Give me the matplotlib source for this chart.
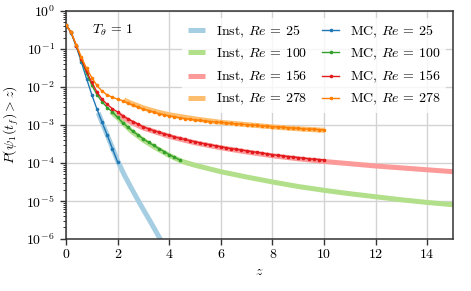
import numpy as np
import matplotlib
matplotlib.use('Agg')
import matplotlib.pyplot as plt
from matplotlib.ticker import LogLocator, FuncFormatter, NullFormatter

plt.rcParams['font.family'] = 'serif'
plt.rcParams['font.serif'] = ['cmr10', 'DejaVu Serif']
plt.rcParams['mathtext.fontset'] = 'cm'
plt.rcParams['axes.unicode_minus'] = False
plt.rcParams['font.size'] = 10

# Monte Carlo data, z step 0.2, values as log10 P
z_mc_step = 0.2
mc_25 = [-0.36, -0.57, -0.93, -1.35, -1.78, -2.20, -2.58, -2.93, -3.27, -3.62, -3.97]
mc_100 = [-0.36, -0.56, -0.92, -1.28, -1.64, -1.95, -2.20, -2.39, -2.54, -2.66,
          -2.80, -2.94, -3.06, -3.17, -3.27, -3.37, -3.46, -3.54, -3.62, -3.70,
          -3.78, -3.85, -3.92]
mc_156 = [-0.36, -0.56, -0.91, -1.26, -1.59, -1.88, -2.13, -2.32, -2.46, -2.57,
          -2.66, -2.76, -2.84, -2.91, -2.98, -3.05, -3.10, -3.15, -3.19, -3.23,
          -3.27, -3.31, -3.35, -3.38, -3.41, -3.44, -3.47, -3.50, -3.52, -3.55,
          -3.57, -3.60, -3.62, -3.64, -3.66, -3.68, -3.70, -3.72, -3.74, -3.76,
          -3.78, -3.80, -3.81, -3.83, -3.84, -3.86, -3.87, -3.89, -3.90, -3.91,
          -3.92]
mc_278 = [-0.36, -0.56, -0.89, -1.22, -1.51, -1.75, -1.96, -2.11, -2.21, -2.27,
          -2.32, -2.36, -2.42, -2.48, -2.53, -2.58, -2.62, -2.66, -2.70, -2.73,
          -2.76, -2.78, -2.81, -2.83, -2.85, -2.86, -2.88, -2.89, -2.91, -2.92,
          -2.93, -2.94, -2.96, -2.97, -2.98, -2.99, -3.00, -3.01, -3.02, -3.03,
          -3.04, -3.05, -3.06, -3.07, -3.08, -3.09, -3.10, -3.11, -3.11, -3.12,
          -3.13]

# instanton predictions (z, log10 P)
inst_25_z = [1.25, 1.5, 1.75, 2.0, 2.25, 2.5, 2.75, 3.0, 3.25, 3.5, 3.75]
inst_25 = [-2.68, -3.10, -3.52, -3.94, -4.30, -4.62, -4.93, -5.23, -5.52, -5.82, -6.12]
inst_100_z = [1.75, 2, 2.5, 3, 3.5, 4, 4.5, 5, 6, 7, 8, 9, 10, 11, 12, 13, 14, 15]
inst_100 = [-2.65, -2.80, -3.14, -3.40, -3.61, -3.80, -3.96, -4.06, -4.23, -4.37,
            -4.50, -4.62, -4.72, -4.81, -4.89, -4.97, -5.04, -5.10]
inst_156_z = [2.0, 2.5, 3, 4, 5, 6, 7, 8, 9, 10, 11, 12, 13, 14, 15]
inst_156 = [-2.70, -2.92, -3.08, -3.30, -3.47, -3.60, -3.71, -3.81, -3.89,
            -3.96, -4.02, -4.08, -4.13, -4.18, -4.23]
inst_278_z = [2.25, 2.5, 3, 3.5, 4, 5, 6, 7, 8, 9, 10]
inst_278 = [-2.34, -2.42, -2.55, -2.65, -2.73, -2.84, -2.93, -2.99, -3.05, -3.10, -3.14]

re_labels = ['25', '100', '156', '278']
inst_colors = ['#a6cee3', '#b2df8a', '#fb9a99', '#fdbf6f']
mc_colors = ['#1f78b4', '#33a02c', '#e31a1c', '#ff7f00']

fig = plt.figure(figsize=(4.71, 2.91), dpi=100)
ax = fig.add_axes([0.140, 0.179, 0.822, 0.783])

inst_all = [(inst_25_z, inst_25), (inst_100_z, inst_100),
            (inst_156_z, inst_156), (inst_278_z, inst_278)]
mc_all = [mc_25, mc_100, mc_156, mc_278]

for i, (zz, lp) in enumerate(inst_all):
    ax.plot(zz, 10.0 ** np.array(lp), color=inst_colors[i], lw=3.6,
            solid_capstyle='butt', label=r'Inst, $Re$ = ' + re_labels[i], zorder=2)
for i, lp in enumerate(mc_all):
    zz = np.arange(len(lp)) * z_mc_step
    ax.plot(zz, 10.0 ** np.array(lp), color=mc_colors[i], lw=1.0, marker='.',
            ms=3.2, label=r'MC, $Re$ = ' + re_labels[i], zorder=3)

ax.set_yscale('log')
ax.set_xlim(0, 15)
ax.set_ylim(1e-6, 1)
ax.set_xticks(range(0, 15, 2))
ax.yaxis.set_major_locator(LogLocator(base=10, numticks=10))
ax.yaxis.set_minor_locator(LogLocator(base=10, subs=np.arange(2, 10), numticks=20))
ax.yaxis.set_major_formatter(FuncFormatter(lambda v, p: r'$10^{%d}$' % round(np.log10(v))))
ax.yaxis.set_minor_formatter(NullFormatter())

ax.grid(True, which='major', color='#d3d3d3', lw=1.0)
ax.set_axisbelow(True)
for s in ax.spines.values():
    s.set_color('#333333')
    s.set_linewidth(1.1)
ax.tick_params(which='major', direction='out', length=4, width=1, color='#333333', pad=3)
ax.tick_params(axis='y', which='major', pad=4)
ax.tick_params(which='minor', direction='out', length=2.2, width=0.7, color='#333333')

ax.set_xlabel(r'$z$')
ax.set_ylabel(r'$P(\psi_1(t_f) > z)$')

ax.text(0.068, 0.917, r'$T_\theta$ = 1', transform=ax.transAxes, va='center', ha='left')

leg = ax.legend(ncol=2, loc='upper right', handlelength=1.2, columnspacing=1.1,
                handletextpad=0.8, frameon=True, framealpha=0.8, edgecolor='none',
                fancybox=False)

fig.savefig('out.png', dpi=100)
